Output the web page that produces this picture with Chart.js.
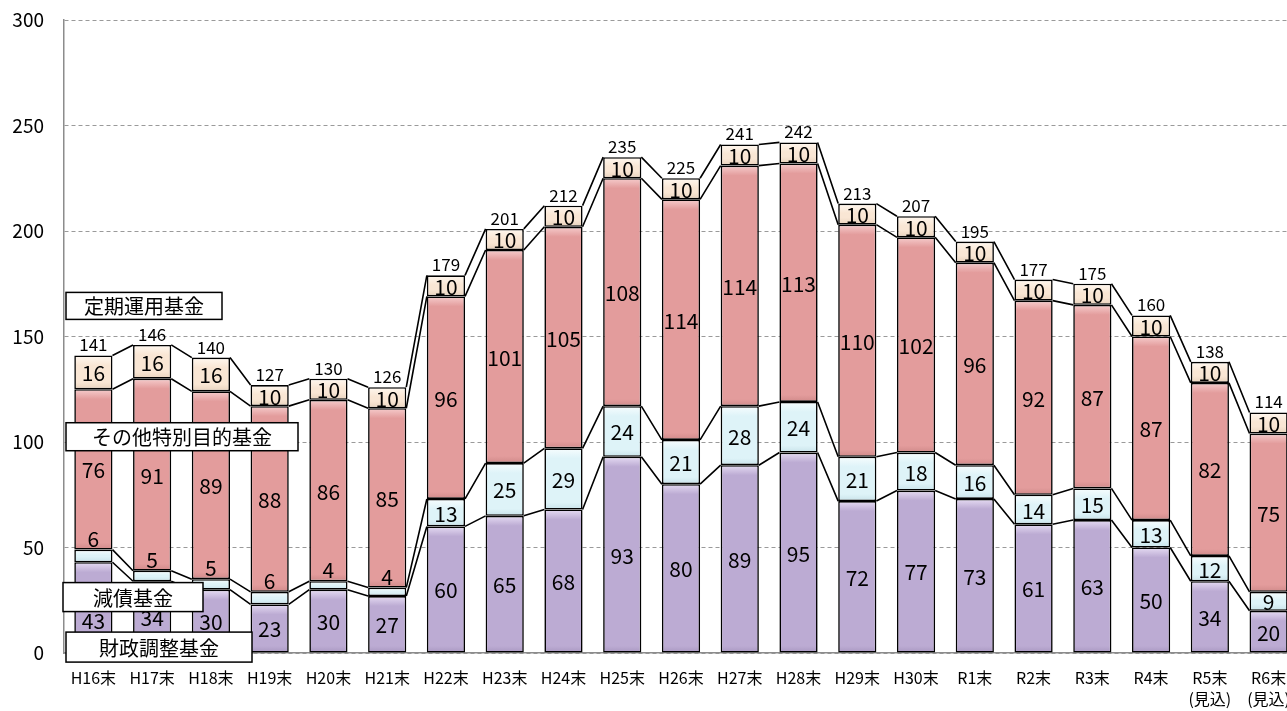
<!DOCTYPE html>
<html>
<head>
<meta charset="utf-8">
<script src="https://cdn.jsdelivr.net/npm/chart.js@4.4.1/dist/chart.umd.min.js"></script>
<style>
  html, body { margin: 0; padding: 0; background: #fff; overflow: hidden; }
  #wrap { width: 1300px; height: 711px; }
</style>
</head>
<body>
<div id="wrap"><canvas id="fundChart" width="1300" height="711"></canvas></div>
<script>
// 年度
const categories = ['H16末','H17末','H18末','H19末','H20末','H21末','H22末','H23末','H24末','H25末',
  'H26末','H27末','H28末','H29末','H30末','R1末','R2末','R3末','R4末',['R5末','(見込)'],['R6末','(見込)']];

// 基金残高（億円）
const zaiseiChousei = [43,34,30,23,30,27,60,65,68,93,80,89,95,72,77,73,61,63,50,34,20];   // 財政調整基金
const gensai        = [6,5,5,6,4,4,13,25,29,24,21,28,24,21,18,16,14,15,13,12,9];            // 減債基金
const sonota        = [76,91,89,88,86,85,96,101,105,108,114,114,113,110,102,96,92,87,87,82,75]; // その他特別目的基金
const teiki         = [16,16,16,10,10,10,10,10,10,10,10,10,10,10,10,10,10,10,10,10,10];    // 定期運用基金
const totals        = [141,146,140,127,130,126,179,201,212,235,225,241,242,213,207,195,177,175,160,138,114];

const seriesNames = ['財政調整基金','減債基金','その他特別目的基金','定期運用基金'];
const yTicks = [0,50,100,150,200,250,300];

const FONT = "'Noto Sans CJK JP', 'Noto Sans', sans-serif";

// base / highlight / shade per series
const palette = [
  ['#bcabd3', '#e6dcf3', '#a897c0'],
  ['#def3f8', '#f7fdfe', '#c9e3ea'],
  ['#e39c9c', '#f6cdcd', '#d08a8a'],
  ['#f9e6d4', '#fff8f0', '#e8d2bd']
];

// vertical bevel-ish gradient for each segment, taken from the y scale
function bevel(c) {
  const chart = c.chart;
  const ys = chart.scales.y;
  const col = palette[c.datasetIndex];
  if (c.type !== 'data' || !ys || !chart.chartArea) return col[0];
  const i = c.dataIndex;
  let base = 0;
  for (let k = 0; k < c.datasetIndex; k++) base += chart.data.datasets[k].data[i];
  const top = base + chart.data.datasets[c.datasetIndex].data[i];
  const y0 = ys.getPixelForValue(top), y1 = ys.getPixelForValue(base);
  const h = y1 - y0;
  if (!(h > 0)) return col[0];
  const g = chart.ctx.createLinearGradient(0, y0, 0, y1);
  g.addColorStop(0, col[1]);
  g.addColorStop(Math.min(10 / h, 0.45), col[0]);
  g.addColorStop(Math.max(1 - 7 / h, 0.55), col[0]);
  g.addColorStop(1, col[2]);
  return g;
}

// lines between the bars, at the top of each stacked segment
const connectors = {
  id: 'connectors',
  beforeDatasetsDraw(chart) {
    const ctx = chart.ctx;
    ctx.save();
    ctx.strokeStyle = '#000';
    ctx.lineWidth = 1.6;
    chart.data.datasets.forEach((ds, d) => {
      const bars = chart.getDatasetMeta(d).data;
      ctx.beginPath();
      for (let i = 0; i < bars.length - 1; i++) {
        const a = bars[i], b = bars[i + 1];
        ctx.moveTo(a.x + a.width / 2, a.y);
        ctx.lineTo(b.x - b.width / 2, b.y);
      }
      ctx.stroke();
    });
    ctx.restore();
  }
};

// the H16 purple label sits lower so it clears the name boxes
const labelNudge = { '0-0': 13 };

// numbers inside the segments + totals on top
const valueLabels = {
  id: 'valueLabels',
  afterDatasetsDraw(chart) {
    const ctx = chart.ctx;
    ctx.save();
    ctx.fillStyle = '#000';
    ctx.textAlign = 'center';
    ctx.textBaseline = 'middle';
    ctx.font = '21px ' + FONT;
    chart.data.datasets.forEach((ds, d) => {
      chart.getDatasetMeta(d).data.forEach((bar, i) => {
        const h = bar.base - bar.y;
        let y = (bar.y + bar.base) / 2;
        if (h < 15) y = bar.y - 12;
        y += labelNudge[d + '-' + i] || 0;
        ctx.fillText(ds.data[i], bar.x, y + 1);
      });
    });
    ctx.font = '17px ' + FONT;
    ctx.textBaseline = 'alphabetic';
    const top = chart.getDatasetMeta(chart.data.datasets.length - 1).data;
    top.forEach((bar, i) => {
      ctx.fillText(totals[i], bar.x, bar.y - 4);
    });
    ctx.restore();
  }
};

// boxed series names on the left
const nameBoxes = {
  id: 'nameBoxes',
  afterDatasetsDraw(chart) {
    const ctx = chart.ctx;
    const y = chart.scales.y;
    const boxes = [
      { text: seriesNames[3], v: 164.5, x: 66, w: 156, h: 27 },
      { text: seriesNames[2], v: 102.5, x: 66, w: 232, h: 28 },
      { text: seriesNames[1], v: 26.5,  x: 63, w: 140, h: 29 },
      { text: seriesNames[0], v: 2.8,   x: 66, w: 186, h: 30 }
    ];
    ctx.save();
    ctx.font = '20px ' + FONT;
    ctx.textAlign = 'center';
    ctx.textBaseline = 'middle';
    boxes.forEach(b => {
      const cy = y.getPixelForValue(b.v);
      ctx.fillStyle = '#fff';
      ctx.fillRect(b.x, cy - b.h / 2, b.w, b.h);
      ctx.strokeStyle = '#000';
      ctx.lineWidth = 1.5;
      ctx.strokeRect(b.x, cy - b.h / 2, b.w, b.h);
      ctx.fillStyle = '#000';
      ctx.fillText(b.text, b.x + b.w / 2, cy + 1);
    });
    ctx.restore();
  }
};

const barStyle = { backgroundColor: bevel, borderColor: '#000', borderWidth: 1.6, borderSkipped: false,
  barPercentage: 0.65, categoryPercentage: 1 };

new Chart(document.getElementById('fundChart'), {
  type: 'bar',
  data: {
    labels: categories,
    datasets: [
      Object.assign({ label: seriesNames[0], data: zaiseiChousei }, barStyle),
      Object.assign({ label: seriesNames[1], data: gensai }, barStyle),
      Object.assign({ label: seriesNames[2], data: sonota }, barStyle),
      Object.assign({ label: seriesNames[3], data: teiki }, barStyle)
    ]
  },
  options: {
    responsive: false,
    animation: false,
    layout: { padding: { top: 20, right: 2, left: 0, bottom: 0 } },
    plugins: {
      legend: { display: false },
      tooltip: { enabled: false }
    },
    scales: {
      x: {
        stacked: true,
        grid: { display: false },
        border: { display: true, color: '#8c8c8c', width: 1.5 },
        ticks: { color: '#000', font: { family: FONT, size: 16, lineHeight: 1.3 }, padding: 7, maxRotation: 0, autoSkip: false },
        afterFit(scale) { scale.height = 58; }
      },
      y: {
        stacked: true,
        min: 0,
        max: 300,
        afterBuildTicks(scale) { scale.ticks = yTicks.map(v => ({ value: v })); },
        grid: { color: '#9a9a9a', lineWidth: 1, drawTicks: false },
        border: { display: true, color: '#8c8c8c', width: 1.5, dash: [4, 3] },
        ticks: { color: '#000', font: { family: FONT, size: 19 }, padding: 20 },
        afterFit(scale) { scale.width = 64; scale.paddingTop = 0; scale.paddingBottom = 0; }
      }
    }
  },
  plugins: [connectors, nameBoxes, valueLabels]
});
</script>
</body>
</html>
